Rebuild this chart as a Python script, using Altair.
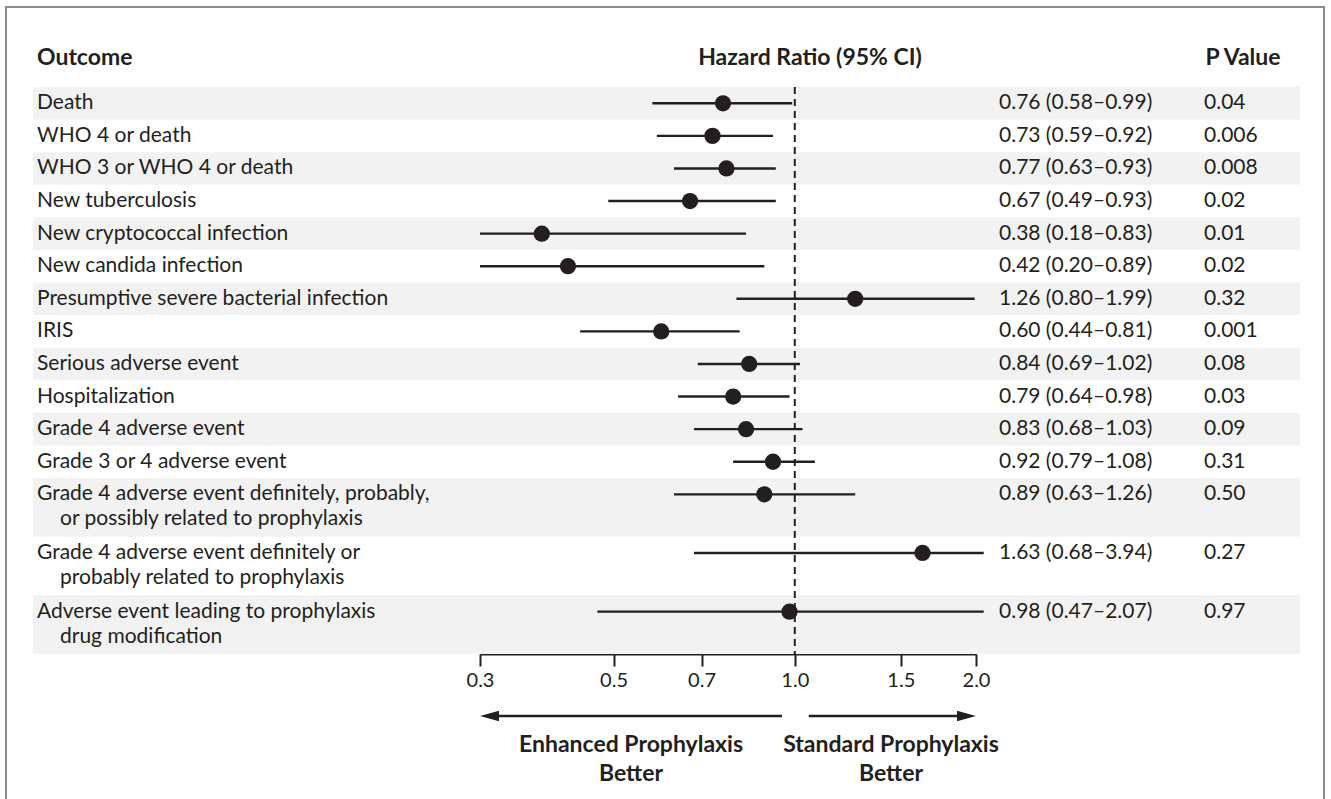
import altair as alt
import pandas as pd

# ---------------- data ----------------
outcome_line1 = [
    "Death",
    "WHO 4 or death",
    "WHO 3 or WHO 4 or death",
    "New tuberculosis",
    "New cryptococcal infection",
    "New candida infection",
    "Presumptive severe bacterial infection",
    "IRIS",
    "Serious adverse event",
    "Hospitalization",
    "Grade 4 adverse event",
    "Grade 3 or 4 adverse event",
    "Grade 4 adverse event definitely, probably,",
    "Grade 4 adverse event definitely or",
    "Adverse event leading to prophylaxis",
]
outcome_line2 = [
    "", "", "", "", "", "", "", "", "", "", "", "",
    "or possibly related to prophylaxis",
    "probably related to prophylaxis",
    "drug modification",
]
hazard_ratio = [0.76, 0.73, 0.77, 0.67, 0.38, 0.42, 1.26, 0.60, 0.84, 0.79, 0.83, 0.92, 0.89, 1.63, 0.98]
ci_low = [0.58, 0.59, 0.63, 0.49, 0.18, 0.20, 0.80, 0.44, 0.69, 0.64, 0.68, 0.79, 0.63, 0.68, 0.47]
ci_high = [0.99, 0.92, 0.93, 0.93, 0.83, 0.89, 1.99, 0.81, 1.02, 0.98, 1.03, 1.08, 1.26, 3.94, 2.07]
p_values = ["0.04", "0.006", "0.008", "0.02", "0.01", "0.02", "0.32", "0.001", "0.08", "0.03",
            "0.09", "0.31", "0.50", "0.27", "0.97"]
tick_values = [0.3, 0.5, 0.7, 1.0, 1.5, 2.0]

# ---------------- layout ----------------
FONT = "Lato"
INK = "#231f20"
W, H = 1267, 567
ROW_UNITS = [1.8 if l2 else 1.0 for l2 in outcome_line2]
TOTAL_UNITS = sum(ROW_UNITS)

tops, t = [], 0.0
for u in ROW_UNITS:
    tops.append(t)
    t += u

df = pd.DataFrame({
    "outcome": outcome_line1,
    "line2": outcome_line2,
    "hr": hazard_ratio,
    "lo": ci_low,
    "hi": ci_high,
    "p": p_values,
})
df["top"] = tops
df["bottom"] = [a + u for a, u in zip(tops, ROW_UNITS)]
df["y1"] = df["top"] + 0.5
df["y2"] = df["top"] + 0.5 + 0.77
df["shaded"] = [i % 2 == 0 for i in range(len(df))]
df["ci"] = [f"{h:.2f} ({l:.2f}\u2013{u:.2f})" for h, l, u in zip(hazard_ratio, ci_low, ci_high)]

xscale = alt.Scale(type="log", domain=[0.3, 2.0], range=[447, 943], nice=False)
yscale = alt.Scale(domain=[0, TOTAL_UNITS], reverse=True, nice=False, zero=False)
xaxis = alt.Axis(
    values=tick_values, format=".1f", title=None, grid=False,
    tickSize=12, tickWidth=2, tickColor=INK, domainColor=INK, domainWidth=2,
    labelFont=FONT, labelFontSize=20, labelColor=INK, labelPadding=4,
    labelFlush=False, labelOverlap=False,
)

dummy = pd.DataFrame({"k": [0]})

frame = alt.Chart(dummy).mark_rect(fill="white", fillOpacity=0, stroke="#8c8c8c", strokeWidth=2).encode(
    x=alt.value(-27), x2=alt.value(1291), y=alt.value(-80), y2=alt.value(900)
)

bands = alt.Chart(df).transform_filter("datum.shaded").mark_rect(color="#f2f2f2").encode(
    y=alt.Y("top:Q", scale=yscale, axis=None),
    y2="bottom:Q",
    x=alt.value(0), x2=alt.value(W),
)

ref = alt.Chart(pd.DataFrame({"one": [1.0]})).mark_rule(
    color=INK, strokeWidth=2, strokeDash=[7, 5]
).encode(
    x=alt.X("one:Q", scale=xscale, axis=xaxis),
    y=alt.value(0), y2=alt.value(H),
)

base = alt.Chart(df).transform_calculate(
    lo_c="max(datum.lo, 0.3)", hi_c="min(datum.hi, 2.06)"
)

ci_lines = base.mark_rule(color=INK, strokeWidth=2.4).encode(
    x=alt.X("lo_c:Q", scale=xscale, axis=xaxis),
    x2="hi_c:Q",
    y=alt.Y("y1:Q", scale=yscale, axis=None),
)

dots = base.mark_circle(color=INK, opacity=1, size=265).encode(
    x=alt.X("hr:Q", scale=xscale, axis=xaxis),
    y=alt.Y("y1:Q", scale=yscale, axis=None),
)

txt = dict(font=FONT, fontSize=21, color=INK, baseline="middle")

lab1 = alt.Chart(df).mark_text(align="left", **txt).encode(
    x=alt.value(4), y=alt.Y("y1:Q", scale=yscale, axis=None), text="outcome:N"
)
lab2 = alt.Chart(df).transform_filter("datum.line2 != ''").mark_text(align="left", **txt).encode(
    x=alt.value(27), y=alt.Y("y2:Q", scale=yscale, axis=None), text="line2:N"
)
ci_text = alt.Chart(df).mark_text(align="left", **txt).encode(
    x=alt.value(966), y=alt.Y("y1:Q", scale=yscale, axis=None), text="ci:N"
)
p_text = alt.Chart(df).mark_text(align="left", **txt).encode(
    x=alt.value(1171), y=alt.Y("y1:Q", scale=yscale, axis=None), text="p:N"
)

hdr = dict(font=FONT, fontSize=23, fontWeight="bold", color=INK, baseline="middle")
h_out = alt.Chart(dummy).mark_text(align="left", text="Outcome", **hdr).encode(x=alt.value(4), y=alt.value(-29))
h_hr = alt.Chart(dummy).mark_text(align="center", text="Hazard Ratio (95% CI)", **hdr).encode(x=alt.value(777), y=alt.value(-29))
h_p = alt.Chart(dummy).mark_text(align="center", text="P Value", **hdr).encode(x=alt.value(1210), y=alt.value(-29))

arrows_df = pd.DataFrame({"x": [0.31, 1.055], "x2": [0.952, 1.95]})
arrows = alt.Chart(arrows_df).mark_rule(color=INK, strokeWidth=2.4).encode(
    x=alt.X("x:Q", scale=xscale, axis=xaxis), x2="x2:Q", y=alt.value(629)
)
head_l = alt.Chart(pd.DataFrame({"x": [0.3]})).mark_point(
    shape="M0,0L2,-0.55L2,0.55Z", filled=True, color=INK, opacity=1, size=361, strokeWidth=0
).encode(x=alt.X("x:Q", scale=xscale, axis=xaxis), y=alt.value(629))
head_r = alt.Chart(pd.DataFrame({"x": [2.0]})).mark_point(
    shape="M0,0L-2,-0.55L-2,0.55Z", filled=True, color=INK, opacity=1, size=361, strokeWidth=0
).encode(x=alt.X("x:Q", scale=xscale, axis=xaxis), y=alt.value(629))

blab = dict(font=FONT, fontSize=23, fontWeight="bold", color=INK, baseline="middle", align="center")
b1 = alt.Chart(dummy).mark_text(text="Enhanced Prophylaxis", **blab).encode(x=alt.value(598), y=alt.value(658))
b2 = alt.Chart(dummy).mark_text(text="Better", **blab).encode(x=alt.value(598), y=alt.value(687))
b3 = alt.Chart(dummy).mark_text(text="Standard Prophylaxis", **blab).encode(x=alt.value(858), y=alt.value(658))
b4 = alt.Chart(dummy).mark_text(text="Better", **blab).encode(x=alt.value(858), y=alt.value(687))

chart = alt.layer(
    frame, bands, ref, ci_lines, dots, lab1, lab2, ci_text, p_text,
    h_out, h_hr, h_p, arrows, head_l, head_r, b1, b2, b3, b4,
).properties(
    width=W, height=H,
    padding={"left": 33, "top": 87, "right": 31, "bottom": 145},
    autosize=alt.AutoSizeParams(type="none"),
    background="white",
).configure_view(stroke=None)

chart.save("out.html", embed_options={"renderer": "svg", "actions": False})
